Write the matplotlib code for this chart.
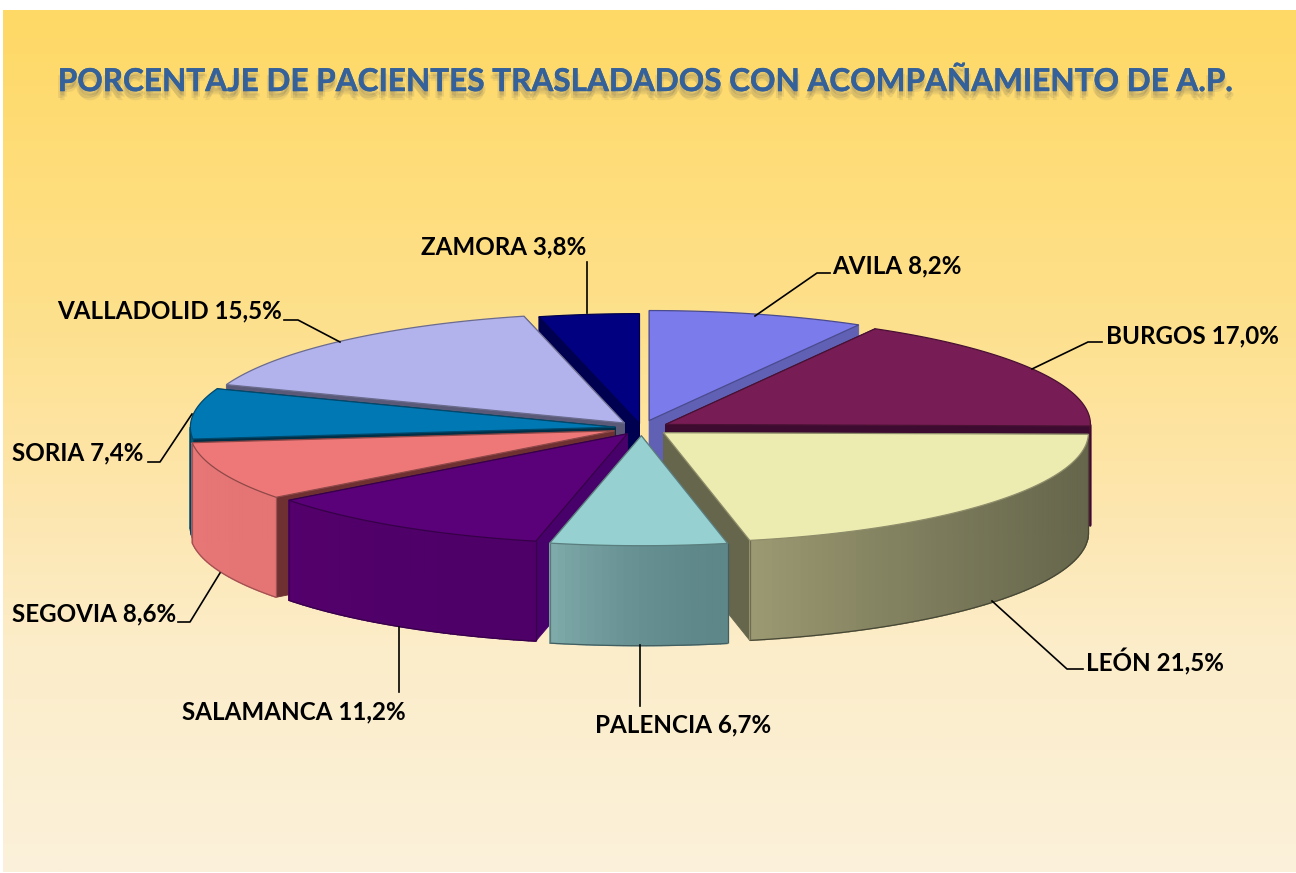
import numpy as np
import matplotlib
matplotlib.use("Agg")
import matplotlib.pyplot as plt
import matplotlib.patheffects as pe
from matplotlib.colors import to_rgb, LinearSegmentedColormap
from matplotlib.patches import Polygon

# ================= DATA =================

title = "PORCENTAJE DE PACIENTES TRASLADADOS CON ACOMPAÑAMIENTO DE A.P."

provinces = ["AVILA", "BURGOS", "LEÓN", "PALENCIA", "SALAMANCA",
             "SEGOVIA", "SORIA", "VALLADOLID", "ZAMORA"]
values = [8.2, 17.0, 21.5, 6.7, 11.2, 8.6, 7.4, 15.5, 3.8]

explode = [0.07, 0.065, 0.067, 0.07, 0.062, 0.068, 0.062, 0.06, 0.04]

top_colors = ["#7B7BEC", "#781C55", "#ECEBB0", "#96D0D0", "#5A0078",
              "#EE7878", "#0078B4", "#B2B2EC", "#000080"]
side_colors = ["#6060B4", "#3D0A30", "#66664C", "#66666C", "#48006A",
               "#6E3030", "#003048", "#5A5A78", "#000050"]
wall_start = ["#6060B4", "#5A1040", "#66664C", "#5E8789", "#4E0068",
              "#E57575", "#005A80", "#8080B0", "#000060"]
wall_end = ["#6060B4", "#5A1040", "#9C9A72", "#80ABAB", "#55006C",
            "#E87878", "#005A80", "#8080B0", "#000060"]

# back to front
draw_order = [8, 0, 7, 1, 6, 5, 2, 4, 3]

# label anchor and leader line, in picture pixels
label_pos = [(832, 266, "left"), (1106, 336, "left"), (1086, 662, "left"),
             (683, 725, "center"), (182, 712, "left"), (12, 614, "left"),
             (12, 453, "left"), (57, 311, "left"), (504, 247, "center")]
leaders = [
    [(755, 316), (817, 273), (830, 273)],
    [(1032, 369), (1088, 342), (1102, 342)],
    [(992, 601), (1067, 669), (1083, 669)],
    [(640, 645), (640, 706)],
    [(399, 627), (399, 692)],
    [(220, 573), (190, 622), (178, 622)],
    [(192, 414), (160, 462), (148, 462)],
    [(340, 342), (298, 320), (284, 320)],
    [(587, 262), (587, 313)],
]

# ================= GEOMETRY =================

CX, CY = 641.5, 428
A, B = 425, 110
DEPTH = 100

fig = plt.figure(figsize=(12.96, 8.73), dpi=100)
ax = fig.add_axes([0, 0, 1, 1])
ax.axis("off")

# ================= BACKGROUND =================

stops = [(0.0, "#FFD966"), (0.34, "#FEE08A"), (0.57, "#FDE6AE"),
         (0.74, "#FCEDC9"), (1.0, "#FBF1DA")]
cmap = LinearSegmentedColormap.from_list("bg", stops)
grad = np.linspace(0, 1, 400).reshape(-1, 1)
ax.imshow(grad, cmap=cmap, extent=(3, 1296, 872, 10), aspect="auto", zorder=0)
ax.set_xlim(0, 1296)
ax.set_ylim(873, 0)

# ================= SLICES =================

edges = np.cumsum([0] + values) / sum(values) * 2 * np.pi


def point(t, ox, oy):
    return ox + A * np.sin(t), oy - B * np.cos(t)


for i in draw_order:
    t0, t1 = edges[i], edges[i + 1]
    mid = (t0 + t1) / 2
    ox = CX + explode[i] * A * np.sin(mid)
    oy = CY - explode[i] * B * np.cos(mid)
    ts = np.linspace(t0, t1, max(int(np.degrees(t1 - t0)), 6))
    xs, ys = point(ts, ox, oy)

    # radial walls
    for t in (t0, t1):
        x, y = point(t, ox, oy)
        ax.add_patch(Polygon([(ox, oy), (x, y), (x, y + DEPTH), (ox, oy + DEPTH)],
                             fc=side_colors[i], ec=side_colors[i], lw=0.6))

    # outer wall, only the part facing the viewer, strip by strip for the shading
    lo, hi = max(t0, np.pi / 2), min(t1, 3 * np.pi / 2)
    if lo < hi:
        c0, c1 = np.array(to_rgb(wall_start[i])), np.array(to_rgb(wall_end[i]))
        wt = np.linspace(lo, hi, max(int(np.degrees(hi - lo)), 2) + 1)
        wx, wy = point(wt, ox, oy)
        for k in range(len(wt) - 1):
            f = ((k + 0.5) / (len(wt) - 1)) ** 2
            col = c0 + (c1 - c0) * f
            ax.add_patch(Polygon([(wx[k], wy[k]), (wx[k + 1], wy[k + 1]),
                                  (wx[k + 1], wy[k + 1] + DEPTH), (wx[k], wy[k] + DEPTH)],
                                 fc=col, ec=col, lw=1.0))
        ax.add_patch(Polygon(np.column_stack([wx, wy + DEPTH]), closed=False, fill=False,
                             ec=tuple(c0 * 0.7), lw=0.9))
        ax.add_patch(Polygon([(wx[0], wy[0]), (wx[0], wy[0] + DEPTH)], closed=False,
                             fill=False, ec=tuple(c0 * 0.7), lw=0.9))
        ax.add_patch(Polygon([(wx[-1], wy[-1]), (wx[-1], wy[-1] + DEPTH)], closed=False,
                             fill=False, ec=tuple(c1 * 0.7), lw=0.9))

    # top face
    ax.add_patch(Polygon(np.vstack([[ox, oy], np.column_stack([xs, ys])]),
                         fc=top_colors[i],
                         ec=tuple(np.array(to_rgb(top_colors[i])) * 0.6), lw=0.9))

# ================= TEXT =================

FONT = "Lato"

ax.text(645, 81, title, ha="center", va="center", family=FONT, weight="bold",
        fontsize=22.7, color="#34619A",
        path_effects=[
            pe.SimplePatchShadow(offset=(0, -3), shadow_rgbFace="#555555", alpha=0.14),
            pe.SimplePatchShadow(offset=(1.5, -4), shadow_rgbFace="#555555", alpha=0.12),
            pe.SimplePatchShadow(offset=(-1.5, -5), shadow_rgbFace="#555555", alpha=0.12),
            pe.SimplePatchShadow(offset=(0, -6.5), shadow_rgbFace="#555555", alpha=0.10),
            pe.withStroke(linewidth=0.3, foreground="#34619A"),
        ])

for i, name in enumerate(provinces):
    label = f"{name} {values[i]:.1f}%".replace(".", ",")
    x, y, ha = label_pos[i]
    ax.text(x, y, label, ha=ha, va="center", family=FONT, weight="bold",
            fontsize=17.4, color="black")
    pts = np.array(leaders[i])
    ax.plot(pts[:, 0], pts[:, 1], color="black", lw=1.2, zorder=3)

fig.savefig("out.png", dpi=100, facecolor="white")
